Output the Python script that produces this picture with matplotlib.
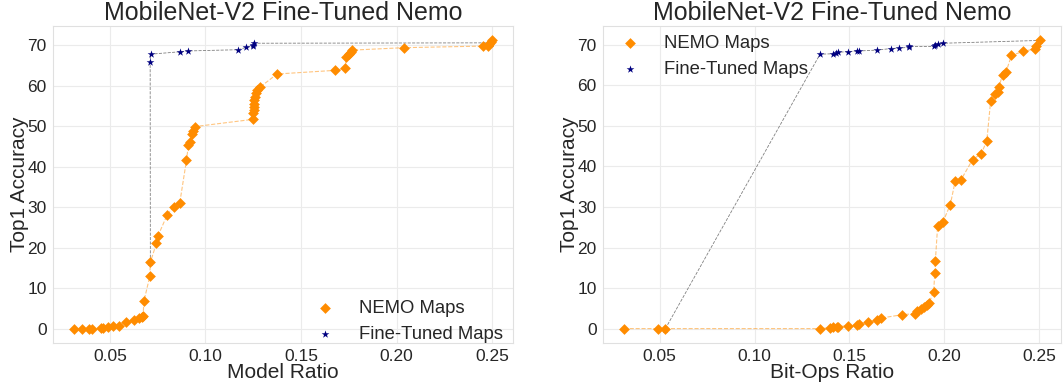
import matplotlib
matplotlib.use("Agg")
import matplotlib.pyplot as plt
import seaborn as sns

# ---------------- data ----------------
title = "MobileNet-V2 Fine-Tuned Nemo"

# Left panel: Model Ratio
nemo_model_x = [0.0312, 0.0352, 0.0392, 0.0409, 0.0456, 0.0465, 0.0491, 0.0514, 0.0547,
                0.0587, 0.0629, 0.0653, 0.0666, 0.0674, 0.0678, 0.0709, 0.0712, 0.0744,
                0.0751, 0.0800, 0.0834, 0.0866, 0.0901, 0.0911, 0.0920, 0.0929, 0.0936,
                0.0944, 0.1249, 0.1251, 0.1252, 0.1253, 0.1254, 0.1256, 0.1259, 0.1263,
                0.1270, 0.1284, 0.1375, 0.1678, 0.1732, 0.1737, 0.1749, 0.1760, 0.1768,
                0.2037, 0.2455, 0.2477, 0.2486, 0.2495, 0.2500]
nemo_model_y = [0.0, 0.0, 0.0, 0.0, 0.1, 0.2, 0.3, 0.6, 0.7,
                1.7, 2.1, 2.5, 2.9, 3.2, 6.7, 12.9, 16.4, 21.1,
                22.8, 28.1, 30.1, 31.1, 41.6, 45.3, 46.1, 48.2, 48.9,
                49.9, 51.7, 53.2, 54.0, 54.8, 55.6, 56.5, 57.3, 58.1,
                58.9, 59.6, 62.9, 63.8, 64.3, 67.1, 67.8, 68.4, 68.8,
                69.4, 69.8, 69.8, 70.3, 70.8, 71.2]
ft_model_x = [0.0712, 0.0711, 0.0713, 0.0869, 0.0911, 0.1172, 0.1214, 0.1249, 0.1251,
              0.1254, 0.2495]
ft_model_y = [16.4, 65.8, 67.8, 68.4, 68.6, 68.9, 69.5, 69.7, 70.0,
              70.5, 70.6]

# Right panel: Bit-Ops Ratio
nemo_bop_x = [0.0312, 0.0490, 0.0531, 0.1345, 0.1397, 0.1411, 0.1432, 0.1442, 0.1490,
              0.1537, 0.1551, 0.1600, 0.1643, 0.1666, 0.1774, 0.1844, 0.1856, 0.1874,
              0.1891, 0.1908, 0.1917, 0.1943, 0.1949, 0.1952, 0.1964, 0.1992, 0.2031,
              0.2057, 0.2086, 0.2148, 0.2193, 0.2223, 0.2243, 0.2266, 0.2284, 0.2287,
              0.2306, 0.2324, 0.2353, 0.2415, 0.2476, 0.2484, 0.2504]
nemo_bop_y = [0.0, 0.0, 0.0, 0.0, 0.2, 0.3, 0.4, 0.5, 0.7,
              1.0, 1.2, 1.6, 2.0, 2.6, 3.4, 3.7, 4.3, 4.8,
              5.3, 5.7, 6.2, 9.0, 13.6, 16.6, 25.2, 26.3, 30.6,
              36.5, 36.6, 41.7, 43.1, 46.3, 56.1, 57.8, 58.3, 59.7,
              62.6, 63.3, 67.4, 68.4, 69.0, 69.6, 71.1]
ft_bop_x = [0.0531, 0.1345, 0.1411, 0.1429, 0.1442, 0.1491, 0.1537, 0.1551, 0.1643,
            0.1720, 0.1760, 0.1812, 0.1815, 0.1943, 0.1952, 0.1966, 0.1992, 0.2504]
ft_bop_y = [0.0, 67.7, 67.8, 68.0, 68.2, 68.3, 68.5, 68.5, 68.7,
            69.1, 69.2, 69.4, 69.6, 69.6, 70.0, 70.3, 70.4, 71.1]

xticks = [0.05, 0.10, 0.15, 0.20, 0.25]
xtick_labels = ["0.05", "0.10", "0.15", "0.20", "0.25"]
yticks = [0, 10, 20, 30, 40, 50, 60, 70]

# ---------------- style ----------------
sns.set_style("whitegrid")
plt.rcParams['font.family'] = ['Liberation Sans', 'DejaVu Sans']
plt.rcParams['text.color'] = '.15'
plt.rcParams['axes.labelcolor'] = '.15'
plt.rcParams['xtick.color'] = '.15'
plt.rcParams['ytick.color'] = '.15'

ORANGE = '#ff8c00'
NAVY = '#000080'

fig = plt.figure(figsize=(10.63, 3.83), dpi=100)
ax1 = fig.add_axes([53 / 1063, 40 / 383, 460 / 1063, 317 / 383])
ax2 = fig.add_axes([603 / 1063, 40 / 383, 458 / 1063, 317 / 383])

panels = [
    (ax1, nemo_model_x, nemo_model_y, ft_model_x, ft_model_y, "Model Ratio",
     dict(loc="lower right", bbox_to_anchor=(0.991, -0.017))),
    (ax2, nemo_bop_x, nemo_bop_y, ft_bop_x, ft_bop_y, "Bit-Ops Ratio",
     dict(loc="upper left", bbox_to_anchor=(0.006, 0.99))),
]

for ax, nx, ny, fx, fy, xlabel, legkw in panels:
    ax.plot(fx, fy, linestyle='--', color='gray', linewidth=0.6, zorder=1)
    ax.plot(nx, ny, linestyle='--', color=ORANGE, linewidth=0.8, alpha=0.5, zorder=2)
    ax.scatter(fx, fy, marker='*', color=NAVY, s=34, linewidths=0, zorder=3,
               label='Fine-Tuned Maps')
    ax.scatter(nx, ny, marker='D', color=ORANGE, s=30, linewidths=0, zorder=4,
               label='NEMO Maps')
    ax.set_xticks(xticks)
    ax.set_xticklabels(xtick_labels)
    ax.set_yticks(yticks)
    ax.tick_params(labelsize=12.5, pad=1)
    ax.set_xlabel(xlabel, fontsize=15, labelpad=-1)
    ax.set_ylabel("Top1 Accuracy", fontsize=15, labelpad=-1)
    ax.set_title(title, fontsize=18, pad=4)
    for sp in ax.spines.values():
        sp.set_color('.88')
    ax.grid(color='.92')
    handles, labels = ax.get_legend_handles_labels()
    ax.legend(handles[::-1], labels[::-1], fontsize=13.3, frameon=False,
              markerscale=1.0, handletextpad=0.85, labelspacing=0.5,
              borderaxespad=0.0, borderpad=0.3, **legkw)

fig.savefig("out.png", dpi=100)
